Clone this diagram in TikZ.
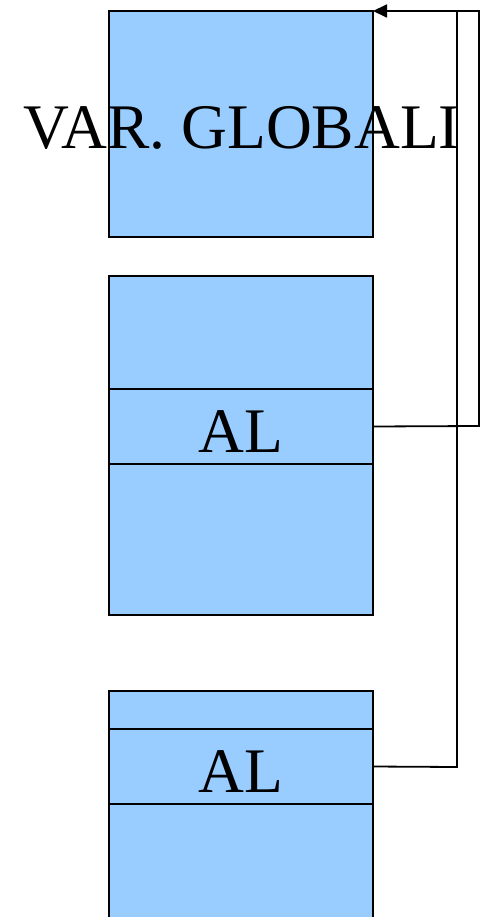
\documentclass[tikz,border=0pt]{standalone}
\usepackage{fontspec}
\setmainfont{Liberation Serif}
\usetikzlibrary{arrows.meta}
\definecolor{boxblue}{RGB}{153,204,255}
\begin{document}
\begin{tikzpicture}[x=1pt,y=-1pt,
  blk/.style={draw=black,fill=boxblue,line width=1.3pt,inner sep=0pt,outer sep=0pt,anchor=north west},
  lbl/.style={font=\fontsize{63.5}{63.5}\selectfont,inner sep=0pt},
  conn/.style={draw=black,line width=1.8pt}]
\useasboundingbox (0,0) rectangle (481,917);
% box 1
\node[blk,minimum width=264pt,minimum height=226pt] (glob) at (109,11) {};
\node[lbl] (globtxt) at (242,128) {VAR. GLOBALI};
% box 2
\node[blk,minimum width=264pt,minimum height=339pt] (rec1) at (109,276) {};
\node[blk,minimum width=264pt,minimum height=75pt] (al1) at (109,389) {};
\node[lbl] at (al1.center) [yshift=-5pt] {AL};
% box 3 (continues past bottom edge)
\fill[boxblue] (109,691) rectangle (373,917);
\draw[line width=1.3pt] (109,917) -- (109,691) -- (373,691) -- (373,917);
\coordinate (rec2) at (109,691);
\node[blk,minimum width=264pt,minimum height=75pt] (al2) at (109,729) {};
\node[lbl] at (al2.center) [yshift=-5pt] {AL};
% connectors
\coordinate (top) at (373,11);
\coordinate (c1) at (479,426);
\coordinate (c2) at (479,11);
\coordinate (d1) at (457,767);
\coordinate (d2) at (457,11);
\draw[conn,-{Triangle[length=14pt,width=13pt]}] (al1.east) -- (c1) -- (c2) -- (top);
\draw[conn] (al2.east) -- (d1) -- (d2);
\end{tikzpicture}
\end{document}
